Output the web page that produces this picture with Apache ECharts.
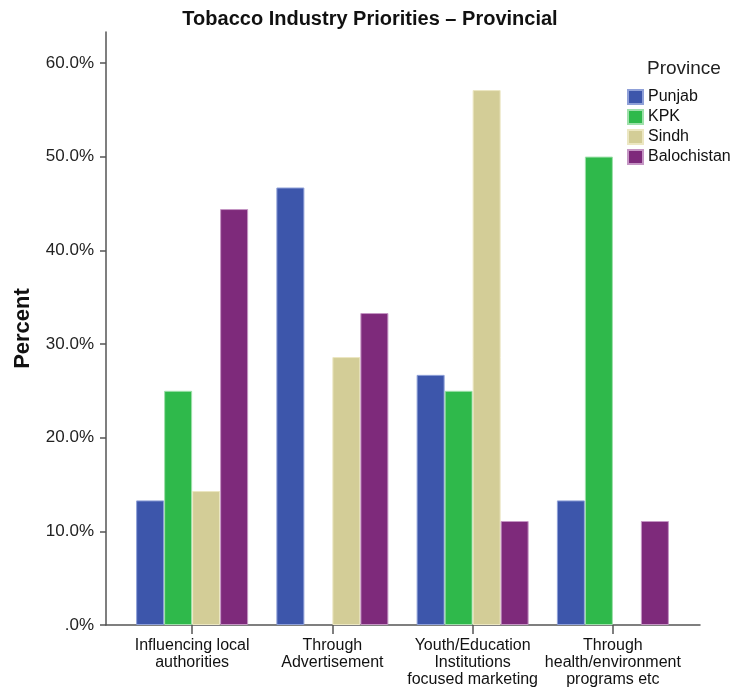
<!DOCTYPE html>
<html>
<head>
<meta charset="utf-8">
<script src="https://cdn.jsdelivr.net/npm/echarts@6/dist/echarts.min.js"></script>
<style>html,body{margin:0;padding:0;background:#fff}#c{width:734px;height:688px}</style>
</head>
<body>
<div id="c"></div>
<script>
const categories = ['Influencing local\nauthorities', 'Through\nAdvertisement', 'Youth/Education\nInstitutions\nfocused marketing', 'Through\nhealth/environment\nprograms etc'];
const provinces = ['Punjab', 'KPK', 'Sindh', 'Balochistan'];
const punjab = [13.3, 46.7, 26.7, 13.3];
const kpk = [25.0, 0, 25.0, 50.0];
const sindh = [14.3, 28.6, 57.1, 0];
const balochistan = [44.4, 33.3, 11.1, 11.1];
const colors = ['#3d56ab', '#2fb94b', '#d3cd97', '#7e2a7b'];
const borders = ['#8fa0d8', '#9fe0ab', '#ece7c2', '#c596c4'];

const chart = echarts.init(document.getElementById('c'));
const values = [punjab, kpk, sindh, balochistan];
const axisCol = '#555';
const font = 'Liberation Sans, Arial, sans-serif';

chart.setOption({
  animation: false,
  title: [
    { text: 'Tobacco Industry Priorities \u2013 Provincial', left: 365, top: 4, textAlign: 'center',
      textStyle: { fontFamily: font, fontSize: 20, fontWeight: 'bold', color: '#111' } },
    { text: 'Province', left: 642, top: 54,
      textStyle: { fontFamily: font, fontSize: 19, fontWeight: 'normal', color: '#222' } }
  ],
  legend: {
    orient: 'vertical', left: 622, top: 84, itemWidth: 15, itemHeight: 14, itemGap: 4,
    icon: 'rect', data: provinces,
    textStyle: { fontFamily: font, fontSize: 16, color: '#111' }
  },
  // 两个 grid：外框轴（贴左）+ 柱子（类目两侧留白更大）
  grid: [
    { left: 106, right: 34, top: 32, bottom: 63, outerBoundsMode: 'none' },
    { left: 122, right: 51, top: 32, bottom: 63, outerBoundsMode: 'none' }
  ],
  xAxis: [
    { type: 'category', gridIndex: 0, data: [''], axisLine: { lineStyle: { color: axisCol, width: 1.5 } },
      axisTick: { show: false }, axisLabel: { show: false } },
    { type: 'category', gridIndex: 1, data: categories, axisLine: { show: false },
      axisTick: { show: true, alignWithLabel: true, length: 9, lineStyle: { color: axisCol, width: 1.5 } },
      axisLabel: { fontFamily: font, fontSize: 16, color: '#111', lineHeight: 17, margin: 12, interval: 0 } }
  ],
  yAxis: [
    { type: 'value', gridIndex: 0, min: 0, max: 63.3, interval: 10,
      name: 'Percent', nameLocation: 'middle', nameGap: 72, nameRotate: 90,
      nameTextStyle: { fontFamily: font, fontSize: 22, fontWeight: 'bold', color: '#111' },
      axisLine: { show: true, lineStyle: { color: axisCol, width: 1.5 } },
      axisTick: { show: true, length: 6, lineStyle: { color: axisCol, width: 1.5 } },
      splitLine: { show: false },
      axisLabel: { fontFamily: font, fontSize: 17, color: '#222', margin: 12, showMaxLabel: false,
        formatter: v => (Math.abs(v % 10) > 0.01 ? '' : (v === 0 ? '.0%' : v.toFixed(1) + '%')) } },
    { type: 'value', gridIndex: 1, min: 0, max: 63.3, show: false, splitLine: { show: false } }
  ],
  series: provinces.map((p, i) => ({
    name: p, type: 'bar', xAxisIndex: 1, yAxisIndex: 1,
    data: values[i].map(v => (v === 0 ? { value: 0, itemStyle: { borderWidth: 0 } } : v)),
    barWidth: 28, barGap: '0%',
    itemStyle: { color: colors[i], borderColor: borders[i], borderWidth: 1 },
    emphasis: { disabled: true }
  }))
});
</script>
</body>
</html>
